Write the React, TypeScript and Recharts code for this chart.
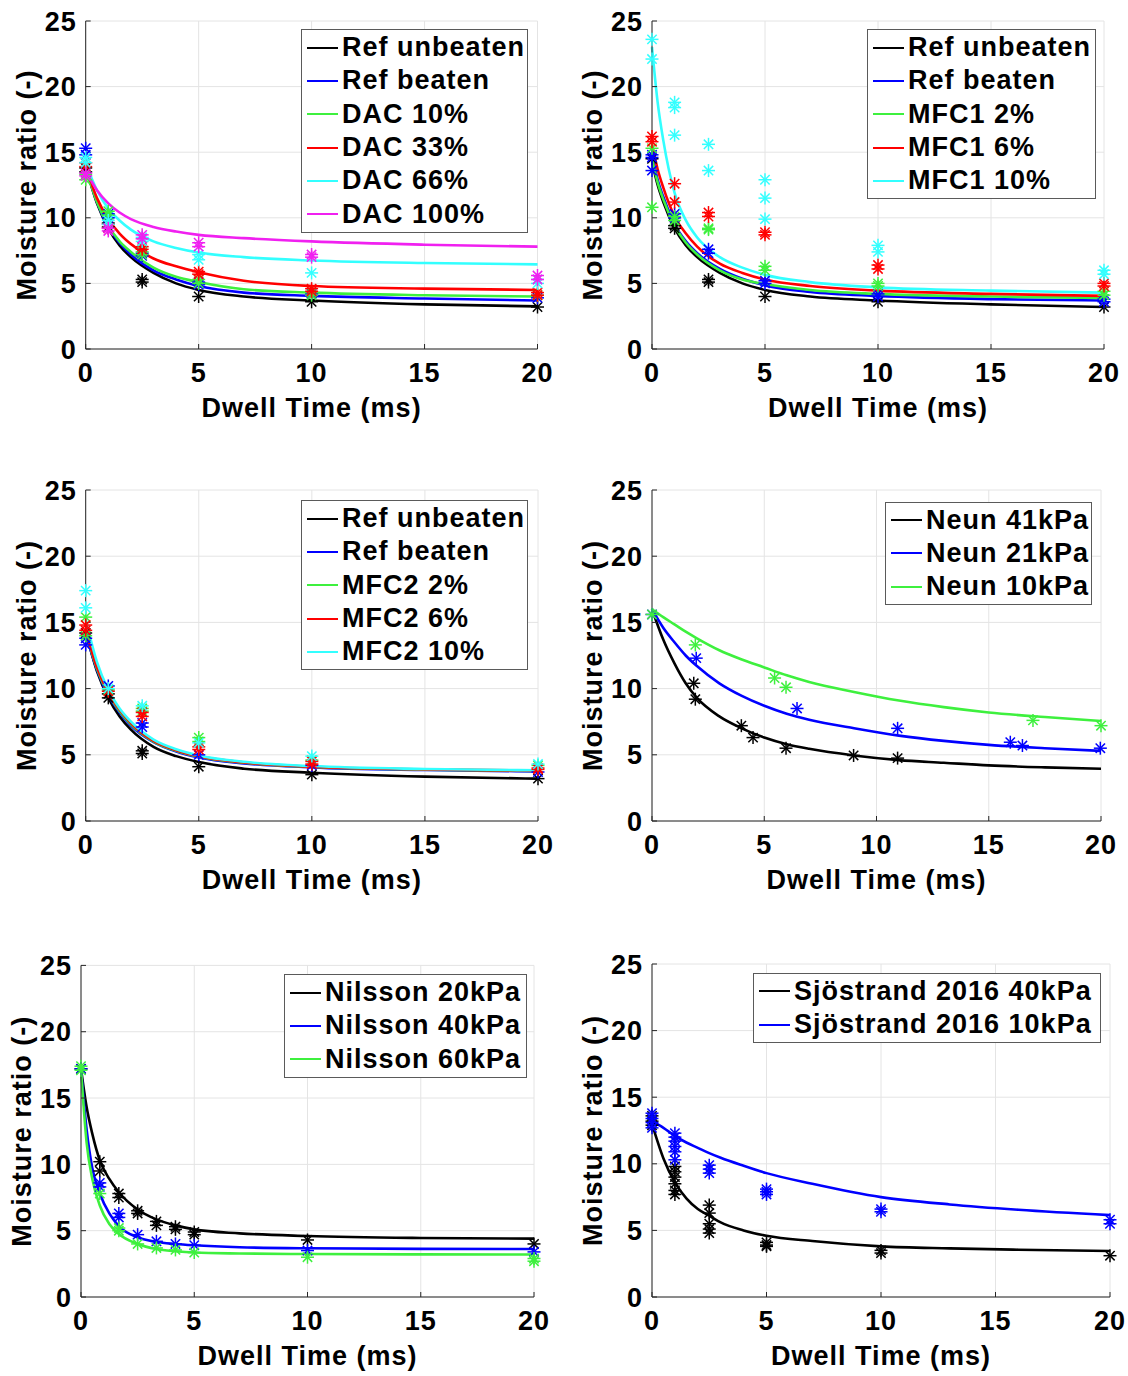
import React from "react";
import { CartesianGrid, ComposedChart, Legend, Line, Scatter, XAxis, YAxis } from "recharts";

type Pt = [number, number];

const BLACK = "#000000";
const BLUE = "#0000ff";
const GREEN = "#3ef03e";
const RED = "#ff0000";
const CYAN = "#33ffff";
const MAGENTA = "#f020f0";

const X_TICKS = [0, 5, 10, 15, 20];
const Y_TICKS = [0, 5, 10, 15, 20, 25];

// ---- DAC panel
const dacFitX = [0, 0.5, 1, 1.5, 2, 3, 4, 5, 7, 10, 15, 20];
const dacRefUnbeatenFit = [13.9, 11.1, 9.2, 7.9, 7.0, 5.8, 5.0, 4.5, 4.0, 3.7, 3.4, 3.25];
const dacRefBeatenFit = [13.9, 11.2, 9.3, 8.1, 7.2, 6.0, 5.3, 4.8, 4.3, 4.05, 3.85, 3.7];
const dac10Fit = [13.8, 11.2, 9.4, 8.2, 7.4, 6.2, 5.5, 5.1, 4.55, 4.3, 4.1, 4.0];
const dac33Fit = [13.9, 11.5, 9.9, 8.8, 8.0, 6.9, 6.3, 5.85, 5.2, 4.8, 4.6, 4.5];
const dac66Fit = [14.1, 12.1, 10.7, 9.8, 9.1, 8.2, 7.7, 7.35, 7.0, 6.75, 6.55, 6.45];
const dac100Fit = [13.6, 12.1, 11.1, 10.4, 9.9, 9.3, 8.95, 8.7, 8.45, 8.2, 7.95, 7.8];

const dacRefUnbeatenPts: Pt[] = [[0, 13.5], [0, 13.8], [1, 9.3], [1, 9.6], [2.5, 5.1], [2.5, 5.3], [5, 4.0], [10, 3.6], [20, 3.2]];
const dacRefBeatenPts: Pt[] = [[0, 15.3], [0, 14.8], [1, 10.3], [1, 10.0], [2.5, 7.3], [2.5, 7.1], [5, 5.1], [5, 4.9], [10, 4.2], [20, 3.9]];
const dac10Pts: Pt[] = [[0, 12.9], [0, 13.3], [1, 10.5], [1, 10.2], [2.5, 7.4], [2.5, 7.2], [5, 5.3], [5, 5.0], [10, 4.1], [10, 4.3], [20, 4.1]];
const dac33Pts: Pt[] = [[0, 13.9], [0, 14.2], [1, 9.2], [1, 9.5], [2.5, 7.8], [2.5, 7.6], [5, 5.9], [5, 5.7], [10, 4.6], [10, 4.4], [20, 4.3], [20, 4.1]];
const dac66Pts: Pt[] = [[0, 14.6], [0, 14.2], [1, 9.8], [1, 9.5], [2.5, 8.5], [2.5, 8.2], [5, 7.2], [5, 6.8], [10, 5.8], [20, 5.0], [20, 5.3]];
const dac100Pts: Pt[] = [[0, 13.4], [0, 13.2], [1, 9.0], [1, 9.2], [2.5, 8.7], [2.5, 8.4], [5, 8.1], [5, 7.8], [10, 7.2], [10, 7.0], [20, 5.6], [20, 5.3]];

// ---- MFC1 panel
const mfc1FitX = [0, 0.25, 0.5, 1, 1.5, 2, 3, 4, 5, 7, 10, 15, 20];
const mfc1RefUnbeatenFit = [14.3, 12.5, 11.2, 9.2, 7.9, 7.0, 5.8, 5.0, 4.5, 4.0, 3.7, 3.4, 3.2];
const mfc1RefBeatenFit = [14.8, 12.9, 11.6, 9.5, 8.2, 7.3, 6.1, 5.35, 4.85, 4.35, 4.05, 3.8, 3.7];
const mfc1_2Fit = [14.5, 12.7, 11.4, 9.4, 8.1, 7.2, 6.0, 5.3, 4.95, 4.5, 4.2, 4.0, 3.9];
const mfc1_6Fit = [15.6, 13.7, 12.3, 10.1, 8.8, 7.8, 6.5, 5.8, 5.3, 4.8, 4.45, 4.2, 4.05];
const mfc1_10Fit = [23.0, 18.8, 15.9, 11.9, 9.8, 8.5, 7.0, 6.2, 5.65, 5.1, 4.7, 4.45, 4.3];

const mfc1RefUnbeatenPts: Pt[] = [[0, 14.5], [1, 9.4], [1, 9.2], [2.5, 5.1], [2.5, 5.3], [5, 4.0], [10, 3.6], [20, 3.2]];
const mfc1RefBeatenPts: Pt[] = [[0, 14.8], [0, 14.6], [0, 13.6], [1, 10.3], [1, 10.0], [2.5, 7.6], [2.5, 7.3], [5, 5.0], [5, 5.2], [10, 4.2], [10, 4.0], [20, 3.8], [20, 3.6]];
const mfc1_2Pts: Pt[] = [[0, 15.3], [0, 10.8], [1, 10.1], [1, 9.8], [2.5, 9.1], [2.5, 9.2], [5, 6.3], [5, 6.0], [10, 5.0], [10, 4.8], [20, 4.4], [20, 4.1]];
const mfc1_6Pts: Pt[] = [[0, 16.2], [0, 15.8], [1, 12.6], [1, 11.2], [2.5, 10.4], [2.5, 10.1], [5, 8.9], [5, 8.7], [10, 6.4], [10, 6.1], [20, 5.0], [20, 4.8]];
const mfc1_10Pts: Pt[] = [[0, 23.6], [0, 22.1], [1, 18.8], [1, 18.4], [1, 16.3], [2.5, 15.6], [2.5, 13.6], [5, 12.9], [5, 11.5], [5, 9.9], [10, 7.9], [10, 7.4], [20, 6.0], [20, 5.7]];

// ---- MFC2 panel
const mfc2FitX = [0, 0.5, 1, 1.5, 2, 3, 4, 5, 7, 10, 15, 20];
const mfc2RefUnbeatenFit = [14.3, 11.3, 9.3, 7.9, 6.9, 5.6, 4.9, 4.45, 3.95, 3.65, 3.35, 3.2];
const mfc2RefBeatenFit = [14.2, 11.4, 9.5, 8.2, 7.2, 5.95, 5.25, 4.8, 4.35, 4.05, 3.85, 3.75];
const mfc2_2Fit = [14.3, 11.5, 9.6, 8.3, 7.3, 6.0, 5.3, 4.85, 4.4, 4.08, 3.88, 3.78];
const mfc2_6Fit = [14.4, 11.6, 9.7, 8.4, 7.4, 6.05, 5.35, 4.9, 4.42, 4.1, 3.9, 3.8];
const mfc2_10Fit = [15.2, 12.0, 9.9, 8.5, 7.5, 6.15, 5.42, 4.95, 4.47, 4.15, 3.93, 3.83];

const mfc2RefUnbeatenPts: Pt[] = [[0, 14.2], [1, 9.3], [1, 9.6], [2.5, 5.1], [2.5, 5.3], [5, 4.1], [10, 3.5], [20, 3.2]];
const mfc2RefBeatenPts: Pt[] = [[0, 13.3], [0, 13.8], [1, 10.2], [2.5, 7.4], [2.5, 7.1], [5, 5.0], [10, 4.2], [20, 3.7]];
const mfc2_2Pts: Pt[] = [[0, 15.4], [0, 14.0], [1, 9.9], [2.5, 8.5], [2.5, 8.3], [5, 6.3], [5, 6.0], [10, 4.6], [20, 4.2]];
const mfc2_6Pts: Pt[] = [[0, 14.8], [0, 14.4], [1, 9.8], [2.5, 7.9], [2.5, 8.2], [5, 5.6], [5, 5.4], [10, 4.5], [10, 4.3], [20, 4.0], [20, 3.9]];
const mfc2_10Pts: Pt[] = [[0, 17.4], [0, 16.1], [1, 10.0], [2.5, 8.7], [5, 5.9], [10, 4.9], [20, 4.3]];

// ---- Neun panel
const neunFitX = [0, 0.5, 1, 1.5, 2, 3, 4, 5, 6, 7, 9, 11, 13, 15, 17.5, 20];
const neun41Fit = [16.0, 13.7, 11.9, 10.4, 9.3, 7.9, 7.0, 6.3, 5.8, 5.45, 4.95, 4.6, 4.4, 4.2, 4.05, 3.95];
const neun21Fit = [16.0, 14.6, 13.5, 12.5, 11.7, 10.4, 9.45, 8.7, 8.1, 7.65, 7.0, 6.45, 6.05, 5.75, 5.5, 5.3];
const neun10Fit = [16.0, 15.4, 14.85, 14.3, 13.8, 12.9, 12.2, 11.6, 11.0, 10.5, 9.75, 9.1, 8.6, 8.2, 7.85, 7.55];

const neun41Pts: Pt[] = [[1.86, 10.4], [1.93, 9.2], [3.98, 7.2], [4.5, 6.3], [5.97, 5.5], [8.98, 4.95], [10.94, 4.75]];
const neun21Pts: Pt[] = [[0, 15.6], [1.97, 12.3], [6.46, 8.5], [10.94, 7.0], [15.96, 5.95], [16.5, 5.7], [19.97, 5.5]];
const neun10Pts: Pt[] = [[0, 15.6], [1.93, 13.3], [5.46, 10.8], [5.97, 10.1], [16.97, 7.6], [20, 7.2]];

// ---- Nilsson panel
const nilFitX = [0, 0.25, 0.5, 0.83, 1.25, 1.67, 2.5, 3.33, 4.17, 5, 7, 10, 15, 20];
const nil20Fit = [17.2, 14.3, 12.3, 10.3, 8.9, 7.9, 6.6, 5.85, 5.4, 5.1, 4.8, 4.6, 4.45, 4.4];
const nil40Fit = [17.2, 12.6, 9.7, 7.8, 6.3, 5.35, 4.5, 4.15, 4.0, 3.9, 3.75, 3.67, 3.63, 3.62];
const nil60Fit = [17.2, 11.6, 8.9, 6.9, 5.5, 4.75, 4.0, 3.62, 3.45, 3.35, 3.28, 3.24, 3.21, 3.2];

const nil20Pts: Pt[] = [[0, 17.2], [0.83, 10.2], [0.83, 9.5], [1.67, 7.8], [1.67, 7.5], [2.5, 6.5], [2.5, 6.3], [3.33, 5.7], [3.33, 5.4], [4.17, 5.3], [4.17, 5.1], [5, 4.9], [5, 4.7], [10, 4.3], [20, 4.0]];
const nil40Pts: Pt[] = [[0, 17.2], [0.83, 8.6], [0.83, 8.3], [1.67, 6.3], [1.67, 6.0], [2.5, 4.7], [3.33, 4.2], [4.17, 4.0], [5, 3.9], [10, 3.5], [20, 3.4]];
const nil60Pts: Pt[] = [[0, 17.4], [0, 17.1], [0.83, 7.8], [1.67, 5.2], [1.67, 5.0], [2.5, 4.0], [3.33, 3.7], [4.17, 3.55], [5, 3.35], [10, 3.0], [20, 2.9], [20, 2.7]];

// ---- Sjöstrand panel
const sjoFitX = [0, 0.5, 1, 1.5, 2, 2.5, 3, 4, 5, 7, 10, 13, 16, 20];
const sjo40Fit = [13.0, 10.4, 8.6, 7.4, 6.6, 6.1, 5.6, 5.0, 4.6, 4.2, 3.8, 3.65, 3.55, 3.45];
const sjo10Fit = [13.2, 12.7, 12.1, 11.6, 11.2, 10.8, 10.45, 9.85, 9.3, 8.5, 7.5, 6.95, 6.55, 6.15];

const sjo40Pts: Pt[] = [[0, 13.6], [0, 13.2], [0, 12.9], [1, 9.8], [1, 9.4], [1, 9.0], [1, 8.5], [1, 8.0], [1, 7.7], [2.5, 6.9], [2.5, 6.3], [2.5, 5.5], [2.5, 5.1], [2.5, 4.8], [5, 4.1], [5, 3.9], [5, 3.8], [10, 3.5], [10, 3.3], [20, 3.1]];
const sjo10Pts: Pt[] = [[0, 13.8], [0, 13.4], [0, 13.1], [0, 12.7], [1, 12.3], [1, 12.0], [1, 11.7], [1, 11.3], [1, 10.9], [1, 10.3], [2.5, 9.9], [2.5, 9.6], [2.5, 9.3], [5, 8.1], [5, 7.9], [5, 7.7], [10, 6.6], [10, 6.4], [20, 5.8], [20, 5.5]];

const FONT = '"Liberation Sans", Arial, Helvetica, sans-serif';
const AXIS = "#262626";

type Series = { name: string; color: string; fit: number[]; pts: Pt[] };
type PanelSpec = {
  left: number;
  top: number;
  margin: { top: number; right: number; bottom: number; left: number };
  yw: number;
  fitX: number[];
  series: Series[];
  legend: { x: number; y: number; w: number };
};

const panels: PanelSpec[] = [
  {
    left: 0, top: 0, margin: { top: 21, right: 22.5, bottom: 11, left: 0 }, yw: 85.7,
    fitX: dacFitX, legend: { x: 301, y: 29, w: 227 },
    series: [
      { name: "Ref unbeaten", color: BLACK, fit: dacRefUnbeatenFit, pts: dacRefUnbeatenPts },
      { name: "Ref beaten", color: BLUE, fit: dacRefBeatenFit, pts: dacRefBeatenPts },
      { name: "DAC 10%", color: GREEN, fit: dac10Fit, pts: dac10Pts },
      { name: "DAC 33%", color: RED, fit: dac33Fit, pts: dac33Pts },
      { name: "DAC 66%", color: CYAN, fit: dac66Fit, pts: dac66Pts },
      { name: "DAC 100%", color: MAGENTA, fit: dac100Fit, pts: dac100Pts },
    ],
  },
  {
    left: 566, top: 0, margin: { top: 21, right: 22, bottom: 11, left: 0 }, yw: 86,
    fitX: mfc1FitX, legend: { x: 301, y: 29, w: 229 },
    series: [
      { name: "Ref unbeaten", color: BLACK, fit: mfc1RefUnbeatenFit, pts: mfc1RefUnbeatenPts },
      { name: "Ref beaten", color: BLUE, fit: mfc1RefBeatenFit, pts: mfc1RefBeatenPts },
      { name: "MFC1 2%", color: GREEN, fit: mfc1_2Fit, pts: mfc1_2Pts },
      { name: "MFC1 6%", color: RED, fit: mfc1_6Fit, pts: mfc1_6Pts },
      { name: "MFC1 10%", color: CYAN, fit: mfc1_10Fit, pts: mfc1_10Pts },
    ],
  },
  {
    left: 0, top: 470, margin: { top: 20, right: 22, bottom: 9, left: 0 }, yw: 85.7,
    fitX: mfc2FitX, legend: { x: 301, y: 30, w: 227 },
    series: [
      { name: "Ref unbeaten", color: BLACK, fit: mfc2RefUnbeatenFit, pts: mfc2RefUnbeatenPts },
      { name: "Ref beaten", color: BLUE, fit: mfc2RefBeatenFit, pts: mfc2RefBeatenPts },
      { name: "MFC2 2%", color: GREEN, fit: mfc2_2Fit, pts: mfc2_2Pts },
      { name: "MFC2 6%", color: RED, fit: mfc2_6Fit, pts: mfc2_6Pts },
      { name: "MFC2 10%", color: CYAN, fit: mfc2_10Fit, pts: mfc2_10Pts },
    ],
  },
  {
    left: 566, top: 470, margin: { top: 20, right: 25, bottom: 9, left: 0 }, yw: 86,
    fitX: neunFitX, legend: { x: 319, y: 31.5, w: 207 },
    series: [
      { name: "Neun 41kPa", color: BLACK, fit: neun41Fit, pts: neun41Pts },
      { name: "Neun 21kPa", color: BLUE, fit: neun21Fit, pts: neun21Pts },
      { name: "Neun 10kPa", color: GREEN, fit: neun10Fit, pts: neun10Pts },
    ],
  },
  {
    left: 0, top: 945, margin: { top: 20.4, right: 26, bottom: 8, left: 0 }, yw: 81,
    fitX: nilFitX, legend: { x: 284, y: 29, w: 243 },
    series: [
      { name: "Nilsson 20kPa", color: BLACK, fit: nil20Fit, pts: nil20Pts },
      { name: "Nilsson 40kPa", color: BLUE, fit: nil40Fit, pts: nil40Pts },
      { name: "Nilsson 60kPa", color: GREEN, fit: nil60Fit, pts: nil60Pts },
    ],
  },
  {
    left: 566, top: 945, margin: { top: 19, right: 16, bottom: 8, left: 0 }, yw: 86,
    fitX: sjoFitX, legend: { x: 187, y: 27.7, w: 348 },
    series: [
      { name: "Sjöstrand 2016 40kPa", color: BLACK, fit: sjo40Fit, pts: sjo40Pts },
      { name: "Sjöstrand 2016 10kPa", color: BLUE, fit: sjo10Fit, pts: sjo10Pts },
    ],
  },
];

const tickStyle = { fill: "#000", fontSize: 27, fontWeight: 700, fontFamily: FONT, letterSpacing: 1 };
const titleStyle: React.CSSProperties = { fill: "#000", fontSize: 27, fontWeight: 700, fontFamily: FONT, letterSpacing: 1 };

const Asterisk = (props: any) => {
  const { cx, cy, fill } = props;
  if (cx == null || cy == null) return null;
  const r = 6.5;
  const d = r * 0.72;
  return (
    <g stroke={fill} strokeWidth={1.5}>
      <line x1={cx - r} y1={cy} x2={cx + r} y2={cy} />
      <line x1={cx} y1={cy - r} x2={cx} y2={cy + r} />
      <line x1={cx - d} y1={cy - d} x2={cx + d} y2={cy + d} />
      <line x1={cx - d} y1={cy + d} x2={cx + d} y2={cy - d} />
    </g>
  );
};

const XTitle = (props: any) => {
  const vb = props.viewBox;
  if (!vb) return null;
  return (
    <text x={vb.x + vb.width / 2} y={vb.y + 68} textAnchor="middle" style={titleStyle}>
      Dwell Time (ms)
    </text>
  );
};

const YTitle = (props: any) => {
  const vb = props.viewBox;
  if (!vb) return null;
  const x = vb.x + vb.width - 50;
  const y = vb.y + vb.height / 2;
  return (
    <text x={x} y={y} transform={`rotate(-90 ${x} ${y})`} textAnchor="middle" style={titleStyle}>
      Moisture ratio (-)
    </text>
  );
};

function LegendBox({ series, width }: { series: Series[]; width: number }) {
  return (
    <div
      style={{
        width,
        boxSizing: "border-box",
        border: "1px solid #5a5a5a",
        background: "#fff",
        padding: "1px 0",
      }}
    >
      {series.map((s) => (
        <div key={s.name} style={{ display: "flex", alignItems: "center", height: 33.3 }}>
          <svg width={31} height={6} style={{ marginLeft: 5, flex: "none" }}>
            <line x1={0} y1={3} x2={31} y2={3} stroke={s.color} strokeWidth={2} />
          </svg>
          <span
            style={{
              marginLeft: 4,
              fontFamily: FONT,
              fontSize: 27,
              fontWeight: 700,
              letterSpacing: 1,
              color: "#000",
              whiteSpace: "nowrap",
              lineHeight: "33px",
            }}
          >
            {s.name}
          </span>
        </div>
      ))}
    </div>
  );
}

const hideTick = () => <g />;

function Panel({ spec }: { spec: PanelSpec }) {
  const { left, top, margin, yw, fitX, series, legend } = spec;
  return (
    <div style={{ position: "absolute", left, top }}>
      <ComposedChart width={560} height={430} margin={margin}>
        <CartesianGrid stroke="#e4e4e4" />
        <XAxis
          dataKey="x"
          type="number"
          domain={[0, 20]}
          ticks={X_TICKS}
          interval={0}
          height={70}
          stroke={AXIS}
          tickSize={-5}
          tickMargin={19}
          tick={tickStyle}
          label={<XTitle />}
        />
        <XAxis xAxisId="top" orientation="top" type="number" domain={[0, 20]} ticks={X_TICKS} height={0} stroke={AXIS} tickSize={-5} tick={hideTick} />
        <YAxis
          dataKey="y"
          type="number"
          domain={[0, 25]}
          ticks={Y_TICKS}
          interval={0}
          width={yw}
          stroke={AXIS}
          tickSize={-5}
          tickMargin={14}
          tick={tickStyle}
          label={<YTitle />}
        />
        <YAxis yAxisId="right" orientation="right" type="number" domain={[0, 25]} ticks={Y_TICKS} width={0} stroke={AXIS} tickSize={-5} tick={hideTick} />
        {series.map((s) => (
          <Scatter
            key={`p-${s.name}`}
            name={`${s.name} data`}
            data={s.pts.map(([x, y]) => ({ x, y }))}
            dataKey="y"
            fill={s.color}
            shape={(p: any) => <Asterisk {...p} />}
            legendType="none"
            isAnimationActive={false}
          />
        ))}
        {series.map((s) => (
          <Line
            key={`f-${s.name}`}
            name={s.name}
            data={fitX.map((x, i) => ({ x, y: s.fit[i] }))}
            dataKey="y"
            type="monotone"
            dot={false}
            activeDot={false}
            stroke={s.color}
            strokeWidth={2.6}
            legendType="none"
            isAnimationActive={false}
          />
        ))}
        <Legend
          layout="vertical"
          align="center"
          verticalAlign="middle"
          wrapperStyle={{ left: legend.x, top: legend.y, width: legend.w }}
          content={() => <LegendBox series={series} width={legend.w} />}
        />
      </ComposedChart>
    </div>
  );
}

export default function App() {
  return (
    <div style={{ position: "absolute", left: 0, top: 0, width: 1128, height: 1376, background: "#fff" }}>
      {panels.map((p, i) => (
        <Panel key={i} spec={p} />
      ))}
    </div>
  );
}
